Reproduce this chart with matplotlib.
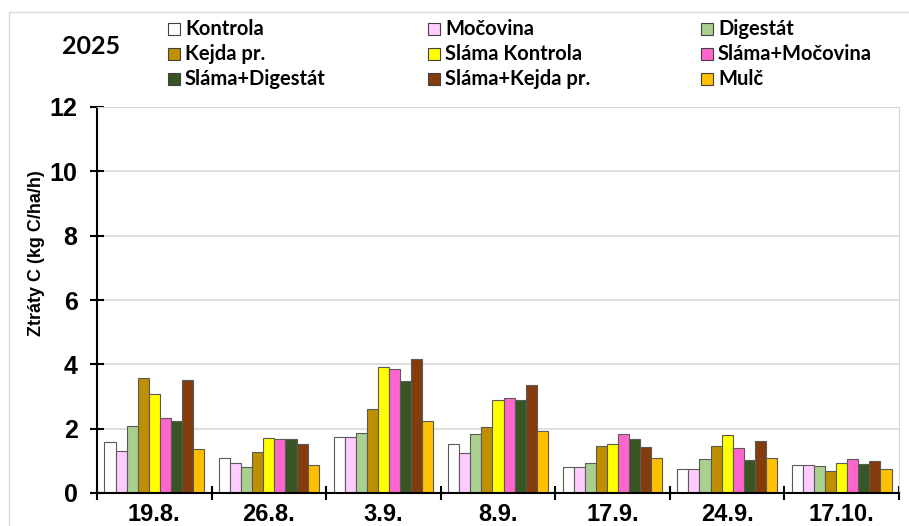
import numpy as np
import matplotlib.pyplot as plt
from matplotlib.patches import Rectangle

# dates of sampling
dates = ["19.8.", "26.8.", "3.9.", "8.9.", "17.9.", "24.9.", "17.10."]

# losses of C (kg C/ha/h), one list per treatment
kontrola       = [1.57, 1.08, 1.73, 1.51, 0.80, 0.74, 0.86]
mocovina       = [1.30, 0.92, 1.75, 1.24, 0.80, 0.74, 0.86]
digestat       = [2.09, 0.81, 1.88, 1.84, 0.92, 1.07, 0.83]
kejda          = [3.56, 1.27, 2.60, 2.06, 1.45, 1.45, 0.67]
slama_kontrola = [3.07, 1.70, 3.92, 2.90, 1.51, 1.79, 0.94]
slama_mocovina = [2.33, 1.67, 3.86, 2.96, 1.82, 1.40, 1.07]
slama_digestat = [2.25, 1.67, 3.47, 2.90, 1.68, 1.03, 0.91]
slama_kejda    = [3.51, 1.52, 4.16, 3.35, 1.43, 1.61, 1.00]
mulc           = [1.38, 0.86, 2.24, 1.92, 1.10, 1.10, 0.74]

names = ["Kontrola", "Močovina", "Digestát", "Kejda pr.", "Sláma Kontrola",
         "Sláma+Močovina", "Sláma+Digestát", "Sláma+Kejda pr.", "Mulč"]
series = [kontrola, mocovina, digestat, kejda, slama_kontrola,
          slama_mocovina, slama_digestat, slama_kejda, mulc]
colors = ["#FFFFFF", "#FFCCFF", "#A9D08E", "#BF8F00", "#FFFF00",
          "#FF66CC", "#375623", "#843C0C", "#FFC000"]

W, H = 909, 526
fig = plt.figure(figsize=(W/100, H/100), dpi=100)
ax = fig.add_axes([97/W, 1-493/H, 802/W, 386/H])

n = len(series)
group = 0.87
bw = group/n
x = np.arange(len(dates)) + 0.5
for i in range(n):
    ax.bar(x - group/2 + bw*(i+0.5), series[i], width=bw, color=colors[i],
           edgecolor="#5A5A5A", linewidth=0.8, zorder=3)

ax.set_xlim(0, len(dates))
ax.set_ylim(0, 12)
ax.set_yticks(np.arange(0, 13, 2))
ax.yaxis.grid(True, color="#D9D9D9", linewidth=1.2, zorder=0)
ax.set_xticks(np.arange(0, len(dates)+1))
ax.set_xticklabels([])
ax.set_xticks(x, minor=True)
ax.set_xticklabels(dates, minor=True)
ax.tick_params(axis="x", which="minor", length=0, pad=7)
ax.tick_params(axis="x", which="major", direction="inout", length=10, width=1.5)
ax.tick_params(axis="y", direction="inout", length=10, width=1.5, pad=9)
for lab in ax.get_xticklabels(minor=True):
    lab.set_fontsize(17)
    lab.set_fontweight("bold")
    lab.set_fontfamily("Liberation Sans")
for lab in ax.get_yticklabels():
    lab.set_fontsize(18)
    lab.set_fontweight("bold")
    lab.set_fontfamily("Liberation Sans")

ax.spines["left"].set_linewidth(1.5)
ax.spines["bottom"].set_linewidth(1.5)
ax.spines["top"].set_color("#D9D9D9")
ax.spines["right"].set_color("#D9D9D9")
ax.spines["bottom"].set_zorder(5)

ax.set_ylabel("Ztráty C (kg C/ha/h)", fontsize=13, fontweight="bold",
              family="Liberation Sans")
ax.yaxis.set_label_coords(-52/802, (493-253)/386)

# chart border
fig.add_artist(Rectangle((9/W, -0.1), 1.2, 1-12/H+0.1, transform=fig.transFigure,
                         facecolor="none", edgecolor="#D9D9D9", linewidth=1))

fig.text(62/W, 1-46/H, "2025", fontsize=18, fontweight="bold", family="Lato",
         va="center", ha="left")

# legend, 3 columns
col_x = [168, 428, 701]
row_y = [29, 54, 79]
for i in range(n):
    cx = col_x[i % 3]
    cy = row_y[i // 3]
    fig.add_artist(Rectangle((cx/W, 1-(cy+6)/H), 12/W, 12/H, transform=fig.transFigure,
                             facecolor=colors[i], edgecolor="#404040", linewidth=0.8))
    fig.text((cx+17)/W, 1-cy/H, names[i], fontsize=14.5, fontweight="bold",
             family="Lato", va="center", ha="left")

fig.savefig("out.png", dpi=100)
